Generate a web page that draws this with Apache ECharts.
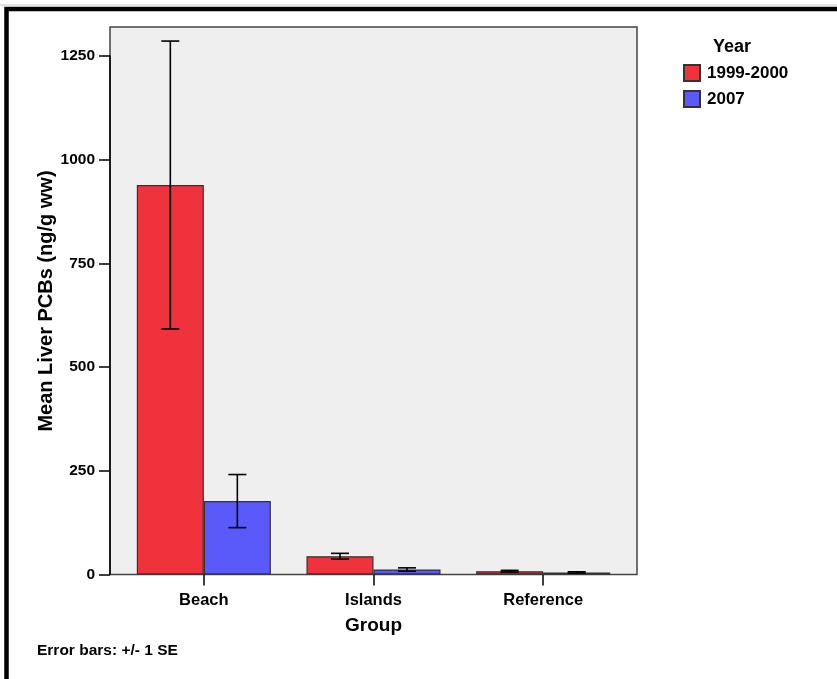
<!DOCTYPE html>
<html>
<head>
<meta charset="utf-8">
<script src="https://cdn.jsdelivr.net/npm/echarts@6/dist/echarts.min.js"></script>
<style>
html,body{margin:0;padding:0;background:#fff;}
#chart{width:837px;height:679px;}
</style>
</head>
<body>
<div id="chart"></div>
<script>
var categories = ['Beach', 'Islands', 'Reference'];
var seriesNames = ['1999-2000', '2007'];
var means1999 = [939, 44, 8];
var se1999 = [347, 7, 2];
var means2007 = [177, 12, 5];
var se2007 = [64, 4, 1.5];
var yTicks = [0, 250, 500, 750, 1000, 1250];

var FONT = 'Liberation Sans, Arial, sans-serif';
var chart = echarts.init(document.getElementById('chart'), null, {renderer: 'canvas'});

function errData(means, se) {
  return means.map(function (m, i) { return [i, m - se[i], m + se[i]]; });
}

function errorRender(seriesIdx) {
  return function (params, api) {
    var x = api.value(0);
    var lo = api.coord([x, api.value(1)]);
    var hi = api.coord([x, api.value(2)]);
    var bw = api.size([1, 0])[0] * 0.79 / 2;
    var cx = lo[0] + (seriesIdx === 0 ? -bw / 2 : bw / 2);
    var cap = 9;
    var style = {stroke: '#000', lineWidth: 1.6, fill: null};
    return {
      type: 'group',
      children: [
        {type: 'line', shape: {x1: cx, y1: lo[1], x2: cx, y2: hi[1]}, style: style},
        {type: 'line', shape: {x1: cx - cap, y1: hi[1], x2: cx + cap, y2: hi[1]}, style: style},
        {type: 'line', shape: {x1: cx - cap, y1: lo[1], x2: cx + cap, y2: lo[1]}, style: style}
      ]
    };
  };
}

var option = {
  backgroundColor: '#fff',
  animation: false,
  title: {
    text: 'Year', left: 708, top: 33,
    textStyle: {fontFamily: FONT, fontSize: 18, fontWeight: 'bold', color: '#000'}
  },
  legend: {
    orient: 'vertical', left: 678, top: 59, itemWidth: 16, itemHeight: 16, itemGap: 8,
    icon: 'rect', data: seriesNames,
    textStyle: {fontFamily: FONT, fontSize: 17, fontWeight: 'bold', color: '#000', lineHeight: 16, padding: [0, 0, 0, 2]}
  },
  grid: [
    {left: 110, top: 27, right: 200, bottom: 104.5, show: true, backgroundColor: '#efefef', borderColor: '#444', borderWidth: 1.5},
    {left: 119, top: 56, right: 209, bottom: 104.5, show: false}
  ],
  xAxis: [{
    type: 'category', gridIndex: 1, data: categories,
    axisLine: {show: false},
    axisTick: {show: true, alignWithLabel: true, length: 11, lineStyle: {color: '#000', width: 1.5}},
    axisLabel: {fontFamily: FONT, fontSize: 16.5, fontWeight: 'bold', color: '#000', margin: 17},
    name: 'Group', nameLocation: 'middle', nameGap: 42,
    nameTextStyle: {fontFamily: FONT, fontSize: 19, fontWeight: 'bold', color: '#000'}
  }],
  yAxis: [{
    type: 'value', gridIndex: 1, min: 0, max: 1250, interval: 250, offset: 9,
    axisLine: {show: true, lineStyle: {color: '#000', width: 1.5}},
    axisTick: {show: true, length: 11, lineStyle: {color: '#000', width: 1.5}},
    axisLabel: {fontFamily: FONT, fontSize: 15.5, fontWeight: 'bold', color: '#000', margin: 15,
      formatter: function (v) { return yTicks.indexOf(v) >= 0 ? String(v) : ''; }},
    splitLine: {show: false}
  }],
  graphic: [
    {type: 'rect', shape: {x: 6.5, y: 9, width: 900, height: 900}, style: {fill: null, stroke: '#000', lineWidth: 4.5}, z: 100},
    {type: 'line', shape: {x1: 0, y1: 5, x2: 837, y2: 5}, style: {stroke: '#c8c8c8', lineWidth: 1}},
    {type: 'text', x: 46, y: 301, rotation: Math.PI / 2,
      style: {text: 'Mean Liver PCBs (ng/g ww)', fontFamily: FONT, fontSize: 20, fontWeight: 'bold', fill: '#000', align: 'center', verticalAlign: 'middle'}},
    {type: 'text', x: 37, y: 651,
      style: {text: 'Error bars: +/- 1 SE', fontFamily: FONT, fontSize: 15.5, fontWeight: 'bold', fill: '#000', align: 'left', verticalAlign: 'middle'}}
  ],
  series: [
    {name: seriesNames[0], type: 'bar', xAxisIndex: 0, yAxisIndex: 0, data: means1999,
      barGap: '0%', barCategoryGap: '21%',
      itemStyle: {color: '#f0323c', borderColor: '#333', borderWidth: 1.2}},
    {name: seriesNames[1], type: 'bar', xAxisIndex: 0, yAxisIndex: 0, data: means2007,
      barGap: '0%', barCategoryGap: '21%',
      itemStyle: {color: '#5a5afa', borderColor: '#333', borderWidth: 1.2}},
    {type: 'custom', xAxisIndex: 0, yAxisIndex: 0, data: errData(means1999, se1999),
      renderItem: errorRender(0), z: 10, clip: false, encode: {x: 0, y: [1, 2]}},
    {type: 'custom', xAxisIndex: 0, yAxisIndex: 0, data: errData(means2007, se2007),
      renderItem: errorRender(1), z: 10, clip: false, encode: {x: 0, y: [1, 2]}}
  ]
};
chart.setOption(option);
</script>
</body>
</html>
